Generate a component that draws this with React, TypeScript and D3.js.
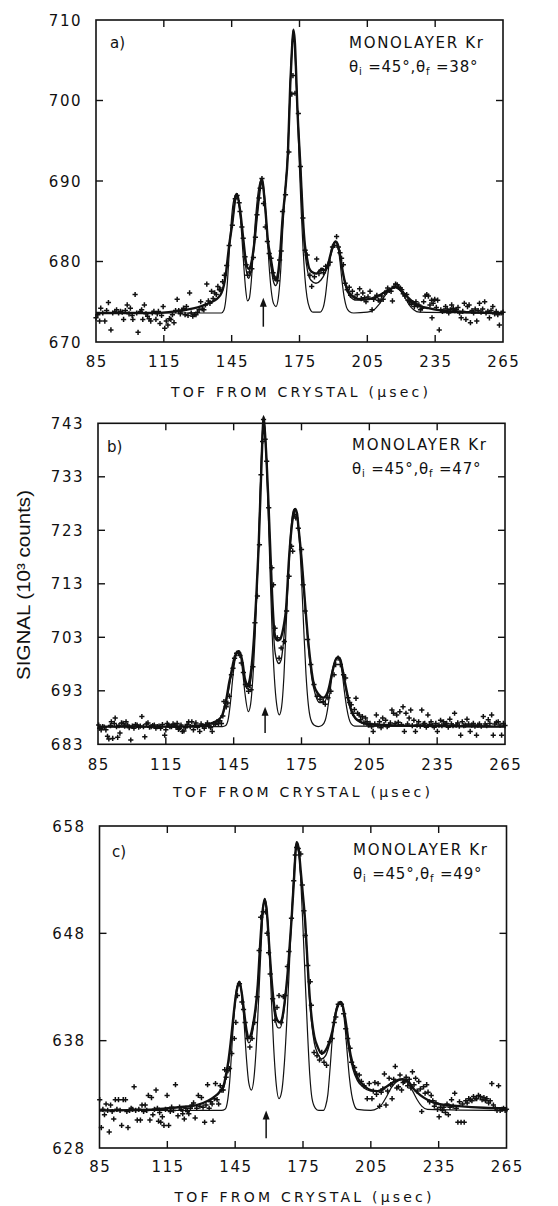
import React from 'react';
import * as d3 from 'd3';

// ---------- data ----------
const xTicks = [85, 115, 145, 175, 205, 235, 265];
const aYTicks = [670, 680, 690, 700, 710];
const bYTicks = [683, 693, 703, 713, 723, 733, 743];
const cYTicks = [628, 638, 648, 658];
const panelTags = ['a)', 'b)', 'c)'];
const sampleLabel = 'MONOLAYER Kr';
const incidentAngle = '45°';
const finalAngles = ['38°', '47°', '49°'];
const xTitle = 'TOF FROM CRYSTAL (μsec)';
const yTitle = 'SIGNAL (10³ counts)';
const arrowTOF = [159, 158.9, 158.7];
const arrowFrom = [671.9, 685.1, 628.9];
const arrowTo = [675.5, 690.0, 631.5];

// panel a
const aFit = [[85,673.6],[110,673.6],[120,673.8],[125,674.0],[130,674.3],[134,674.7],[137,675.1],[139,675.5],[140.5,676.1],[141.5,677.0],[142.5,678.6],[143.2,680.3],[143.9,682.0],[145.3,684.8],[146.6,687.8],[147.2,688.4],[148.7,686.4],[150.1,682.9],[151.4,679.8],[152.5,679.1],[153.5,679.6],[154.9,682.0],[156.2,685.8],[157.6,689.2],[158.3,690.3],[159.7,687.2],[161,682.7],[162.4,680.2],[163.6,678.3],[164.5,677.7],[165.5,678.5],[166.5,681.2],[167.5,685.3],[168.6,688.5],[169.9,693.6],[170.9,701.9],[171.6,706.0],[172.3,708.8],[173,707.0],[173.5,703.5],[174,699.5],[175.4,691.8],[176.5,685.4],[177.4,682.0],[178.2,680.6],[179.2,679.2],[180.5,678.7],[182.5,678.5],[184,678.9],[185,679.1],[186.3,678.9],[187.5,679.5],[188.5,680.6],[189.5,681.7],[190.3,682.3],[191,682.5],[191.8,682.2],[192.8,681.0],[193.8,679.3],[194.8,677.8],[195.8,676.8],[197,676.1],[199,675.6],[202,675.3],[205,675.3],[208,675.5],[211,675.9],[214,676.4],[216,676.7],[217.5,676.8],[219.5,676.5],[222,675.8],[225,675.0],[228,674.5],[232,674.2],[238,673.9],[250,673.7],[265,673.6]];
const aMid = [[143.9,682.0],[145.3,684.8],[147.2,688.4],[148.7,686.3],[150.1,682.5],[151.4,679.0],[152.5,677.9],[153.5,678.7],[154.9,681.8],[156.2,685.7],[158.3,690.3],[159.7,687.0],[161,682.3],[162.4,679.3],[163.6,677.4],[164.5,677.0],[165.5,677.8],[166.5,680.8],[167.5,685.0],[168.6,688.5],[169.9,693.6],[170.9,701.9],[172.3,708.8],[174,699.5],[175.4,691.8],[176.5,685.2],[177.4,681.3],[178.5,678.9],[180,677.7],[182.3,677.3],[184.5,677.7],[186.5,678.7],[188.5,680.5],[190,681.9],[191,682.5],[192.5,681.2],[194,678.8],[195.5,676.8],[197,675.8],[200,675.2],[204,675.2]];
const aNarrow = [[85,673.6],[140.5,673.6],[141.5,673.9],[142.3,675.0],[143,677.0],[143.8,680.5],[144.7,684.5],[145.7,687.3],[147.2,688.4],[148.4,686.8],[149.4,683.5],[150.4,679.3],[151.2,676.5],[152,675.1],[152.8,675.4],[153.7,677.6],[154.6,681.5],[155.6,685.5],[156.7,688.6],[158.3,690.3],[159.5,688.3],[160.5,684.3],[161.5,679.7],[162.5,676.4],[163.5,674.8],[164.6,674.4],[165.6,675.4],[166.6,678.5],[167.6,684.0],[168.6,688.5],[169.9,694.0],[170.9,701.9],[171.6,706.0],[172.3,708.8],[173,706.5],[173.6,702.5],[174.3,697.0],[175,691.5],[175.8,686.0],[176.6,681.5],[177.4,678.0],[178.3,675.6],[179.5,674.2],[181,673.7],[184,673.7],[185.5,674.3],[186.5,675.8],[187.5,678.3],[188.5,680.5],[189.5,681.9],[190.5,682.4],[191,682.5],[191.8,682.1],[192.8,680.3],[193.8,677.6],[194.8,675.5],[195.8,674.3],[197,673.8],[199,673.6],[205,673.7],[208,674.0],[210,674.6],[212,675.4],[214,676.2],[216,676.7],[217.5,676.8],[219.5,676.4],[221.5,675.6],[223.5,674.6],[225.5,674.0],[228,673.7],[265,673.6]];
const aPoints = [[85,673.0],[85.8,673.4],[86.6,672.6],[87.1,674.2],[88,673.6],[88.9,672.6],[89.7,673.9],[90.5,674.9],[91.6,671.5],[92.4,673.6],[93.3,673.8],[94.1,674.0],[95,673.6],[95.8,673.8],[96.6,673.7],[97.2,672.8],[98,673.9],[98.8,674.6],[99.6,673.5],[100.2,674.2],[101,673.3],[101.3,672.8],[102.3,675.9],[103,673.6],[103.6,671.2],[104.6,673.8],[105.2,674.0],[105.7,672.8],[106.4,674.6],[107.1,673.5],[107.8,673.2],[108.5,672.9],[109.2,672.6],[109.9,673.6],[110.6,673.8],[111.5,672.8],[112.1,673.5],[112.6,673.8],[113.3,672.3],[114,673.3],[114.7,674.4],[115.4,671.7],[116.1,672.6],[116.8,672.1],[117.5,672.9],[118.1,672.8],[118.8,673.4],[119.5,672.4],[120.2,673.9],[120.9,675.3],[121.6,673.9],[122.3,673.5],[123,673.9],[123.7,674.2],[124.4,673.4],[125,674.4],[125.7,673.3],[126.4,676.1],[127.1,673.6],[127.8,673.2],[128.5,673.4],[129.2,673.4],[129.9,673.7],[130.6,674.0],[131.3,675.0],[132,674.1],[132.7,674.0],[133.4,674.6],[134,677.2],[134.7,675.1],[135.4,674.8],[136.1,676.3],[136.8,675.4],[137.5,676.1],[138.2,675.9],[138.9,676.9],[139.6,676.5],[140.2,676.5],[141,677.5],[141.8,678.3],[142.8,679.5],[143.9,682.0],[145.3,684.5],[146.6,687.8],[147.4,688.2],[148.3,687.3],[148.7,686.2],[149.5,684.3],[150.1,682.9],[150.9,680.6],[151.4,679.6],[152.1,678.3],[152.9,678.7],[153.9,679.1],[154.6,680.5],[155.5,683.0],[156.2,685.8],[157.1,687.9],[157.6,689.1],[158.4,690.3],[159.1,687.2],[159.9,684.3],[160.8,682.5],[161.6,681.0],[162.4,680.4],[163.3,678.6],[164.2,677.9],[165.2,677.6],[166.2,680.2],[166.9,681.3],[167.5,686.2],[168.8,688.3],[170.3,693.6],[171.6,700.8],[172.1,703.1],[173,700.9],[174.5,698.4],[175.4,691.8],[176.5,685.4],[177.5,681.4],[178.4,680.8],[179.6,678.3],[180.4,676.9],[181.6,678.1],[182.6,680.3],[183.6,678.5],[184.5,678.9],[185.6,678.6],[186.6,679.4],[187.6,679.5],[188.5,679.9],[189.6,681.8],[190.5,682.0],[191.4,683.1],[192.2,681.8],[192.9,681.1],[193.6,680.4],[194.4,679.6],[195.2,677.3],[196.1,676.5],[197,676.8],[197.6,675.8],[198.4,676.3],[199.5,675.5],[200.5,675.9],[201.6,676.6],[202.3,675.4],[203,676.1],[203.8,675.5],[204.4,675.0],[205.3,675.6],[206.2,676.3],[207.1,674.0],[207.8,675.3],[208.5,675.5],[209.2,675.8],[209.9,675.2],[210.6,675.1],[211.3,675.7],[212,675.3],[212.7,676.1],[213.4,676.2],[214,676.7],[214.8,676.4],[215.5,676.3],[216.1,675.1],[216.8,676.9],[217.5,677.2],[218.2,677.1],[218.9,676.8],[219.6,676.7],[220.2,676.5],[220.9,676.0],[221.6,675.7],[222.4,675.9],[223,675.2],[223.7,675.0],[224.4,674.7],[225.1,674.9],[225.8,674.4],[226.5,675.0],[227.2,674.5],[227.8,674.6],[228.5,674.0],[229.2,674.2],[229.9,675.0],[230.6,675.7],[231.3,675.9],[232,675.7],[232.7,674.6],[233.4,675.2],[233.6,673.0],[234.1,674.8],[234.8,675.3],[235.5,674.3],[236.1,675.2],[236.8,671.5],[237.5,674.0],[238.2,673.8],[238.9,673.9],[239.6,674.4],[240.3,674.1],[241,673.6],[241.7,674.0],[242.3,674.6],[243,674.2],[243.7,673.9],[244.4,674.0],[245.1,674.3],[245.8,673.6],[246.5,673.0],[247.2,673.8],[247.9,674.8],[248.6,672.8],[249.3,674.4],[250,674.6],[250.6,672.4],[251.3,673.9],[252,673.6],[252.7,674.1],[253.4,672.6],[254,673.9],[254.6,674.8],[255.3,673.7],[256,674.1],[256.9,675.0],[257.5,673.6],[258.3,673.8],[259,673.0],[259.7,673.9],[260.5,674.4],[261.3,673.5],[262,673.8],[262.7,673.4],[263.4,672.1],[264.2,673.6],[265,673.7]];

// panel b
const bFit = [[85,686.3],[120,686.3],[130,686.5],[135,686.9],[138,687.5],[140,688.5],[141,690.0],[142,692.0],[143,694.5],[144,696.5],[145,698.6],[146,699.9],[147.2,700.4],[148,699.9],[149,698.1],[150,695.2],[151.3,694.1],[152.2,695.3],[153,697.8],[154,703.0],[155,710.5],[156,719.5],[157,731.5],[157.7,740.0],[158.2,744.3],[158.8,741.5],[159.5,736.5],[160.2,730.0],[161,721.5],[162,711.0],[162.8,705.0],[163.6,702.8],[164.5,702.4],[165.5,702.6],[166.5,703.8],[167.3,705.5],[168.1,708.0],[169.5,717.8],[170.6,723.4],[171.5,726.2],[172.2,727.0],[173,726.2],[173.6,723.8],[175,717.8],[176.4,710.3],[177.7,703.5],[179.1,697.9],[180.5,694.1],[182.6,692.3],[184.6,691.7],[186.7,692.9],[188.7,696.6],[190.1,698.8],[191.2,699.3],[192.2,698.8],[192.9,697.5],[194,695.0],[195,692.9],[196.3,690.4],[197.5,688.8],[199,687.8],[201,687.2],[204,686.8],[210,686.6],[220,686.5],[240,686.4],[265,686.3]];
const bMid = [[140,688.3],[142,691.5],[144,696.0],[145.5,699.0],[147.2,700.4],[148.5,699.0],[150,694.5],[151.3,693.3],[152.5,694.8],[154,702.5],[156,719.5],[158.2,744.3],[160.2,729.5],[162,709.5],[163,701.5],[164,698.8],[165,698.1],[166,698.8],[167,702.0],[168.1,707.5],[170.6,723.4],[172.2,727.0],[173.6,723.8],[176.4,710.0],[178,701.5],[179.5,695.5],[181,692.5],[183,690.8],[185,690.9],[187,693.0],[189,697.5],[191.2,699.3],[193,697.3],[195,692.5],[196.5,689.8],[198,688.3],[200,687.4],[204,686.8]];
const bNarrow = [[85,686.3],[140,686.3],[141.5,686.5],[142.5,687.5],[143.5,690.5],[144.5,695.0],[145.5,698.5],[146.5,700.2],[147.2,700.4],[148,699.8],[149,696.5],[150,692.5],[151.5,689.1],[152.5,690.5],[153.5,695.5],[154.5,703.5],[155.5,714.0],[156.5,727.0],[157.5,739.0],[158.2,744.3],[159,740.5],[160,730.0],[161,716.5],[162,704.0],[163,695.5],[164,690.5],[165.2,688.5],[166.2,690.0],[167.2,695.5],[168.2,705.0],[169.3,716.0],[170.5,724.0],[171.5,726.8],[172.2,727.0],[173,726.0],[174,721.5],[175,714.0],[176,704.5],[177,696.0],[178,690.5],[179,687.8],[180.5,686.6],[182.4,686.3],[184,686.5],[185.5,687.5],[186.5,689.5],[187.5,692.5],[188.5,695.7],[189.5,698.0],[190.5,699.1],[191.2,699.3],[192,698.6],[193,696.3],[194,692.8],[195,689.8],[196,687.8],[197,686.8],[198.5,686.4],[265,686.3]];
const bPoints = [[85.3,686.6],[85.7,686.0],[86.4,685.7],[87.1,686.3],[87.8,686.2],[88.5,685.7],[89.2,684.5],[89.8,684.0],[90.5,686.5],[90.9,687.2],[91.5,684.1],[92.2,686.9],[92.6,687.9],[93.2,686.3],[93.7,684.3],[94.3,686.5],[94.7,685.1],[95.4,687.0],[96.1,686.9],[96.8,686.4],[97.4,687.2],[98.1,686.6],[98.8,686.1],[99.5,683.8],[100.2,686.4],[100.9,686.0],[101.6,686.7],[102.3,686.6],[103,686.2],[103.7,686.4],[104.4,688.2],[105.1,686.3],[105.7,684.4],[106.4,686.8],[107.1,687.0],[107.8,686.2],[108.5,686.3],[109.2,686.5],[109.9,686.6],[110.6,686.0],[111.3,686.3],[112,686.4],[112.7,686.0],[113.5,686.7],[114.5,684.7],[115,685.7],[115.6,686.9],[116.1,686.6],[116.8,686.3],[117.5,686.3],[118.2,686.8],[118.9,686.6],[119.5,686.2],[120,686.9],[120.6,685.8],[121,686.0],[121.7,686.6],[122.3,685.4],[123,685.5],[123.7,686.1],[124.4,686.7],[125.1,687.2],[125.8,686.3],[126.5,687.2],[127.2,685.7],[127.8,686.5],[128.3,687.0],[129,686.2],[130,685.4],[130.6,686.8],[131.3,686.4],[132,686.0],[132.7,686.6],[133.4,687.0],[134.1,686.5],[134.8,686.1],[135.5,685.4],[136.2,686.8],[136.9,686.7],[137.6,687.2],[138.3,686.9],[138.9,687.4],[139.6,686.9],[140.2,688.3],[140.7,691.0],[141.7,690.0],[142.4,690.7],[143.1,692.0],[144,696.0],[144.7,697.2],[145.4,699.1],[146.3,700.0],[147.2,700.1],[147.8,699.6],[148.4,698.2],[149.3,696.4],[150.2,694.2],[150.9,693.8],[151.6,692.9],[152.2,694.0],[152.7,693.2],[153.5,697.5],[154.4,705.7],[155.5,710.7],[156.4,720.3],[157.1,733.4],[157.8,739.6],[158.2,743.7],[158.9,740.0],[159.6,735.9],[160.5,727.2],[161.9,716.0],[162.6,712.8],[163.3,704.7],[164.3,702.9],[165.1,699.1],[166,701.0],[167.4,702.2],[168.4,707.9],[169.5,714.4],[170.6,720.0],[171.1,719.1],[172,725.9],[172.5,725.3],[173.6,723.4],[175,719.4],[175.7,712.8],[176.6,707.9],[177.7,702.6],[179.1,697.9],[180.5,694.2],[181.9,692.0],[183.2,691.4],[184.6,691.0],[185.5,690.5],[186.7,691.7],[188,692.9],[189.4,696.0],[190.1,697.9],[191.2,699.1],[192.2,697.9],[193.6,696.0],[194.5,695.4],[195.6,691.7],[196.3,690.8],[197,690.4],[197.7,688.8],[198.4,689.5],[199.1,691.6],[199.8,688.8],[200.5,688.5],[201.2,687.6],[201.9,688.2],[202.6,687.0],[203.3,687.9],[204,687.2],[204.6,686.6],[205.3,686.9],[206,686.3],[206.7,685.4],[207.4,686.8],[208.1,688.5],[208.8,686.5],[209.5,687.2],[210.2,686.1],[210.9,687.9],[211.5,686.7],[212.2,687.5],[212.9,686.3],[213.6,686.6],[214.3,687.0],[215,689.4],[215.7,688.8],[216.4,686.9],[217.1,688.5],[217.8,687.1],[218.5,689.1],[219.2,686.7],[219.9,690.0],[220.5,685.4],[221.2,688.8],[221.9,686.8],[222.6,687.9],[223.3,689.4],[224,686.5],[224.7,687.5],[225.4,685.4],[226.1,686.6],[226.8,687.2],[227.5,686.4],[228.2,689.4],[228.9,686.8],[229.5,686.9],[230.2,686.2],[230.9,688.5],[231.6,686.7],[232.3,687.2],[233,686.5],[233.7,686.2],[234.4,686.9],[235.1,685.4],[235.8,686.6],[236.5,687.5],[237.1,686.5],[237.8,687.2],[238.5,686.7],[239.2,686.9],[239.9,686.2],[240.6,687.7],[241.3,686.8],[242,686.5],[242.7,688.8],[243.4,686.6],[244.1,687.0],[244.8,686.4],[245.4,684.7],[246.1,687.2],[246.8,686.5],[247.5,686.6],[248.2,687.7],[248.9,686.8],[249.6,685.4],[250.3,686.6],[251,686.9],[251.7,686.4],[252.4,684.7],[253,686.6],[253.7,686.8],[254.5,686.4],[255.4,688.2],[256.2,686.8],[256.9,686.5],[257.6,687.6],[258.3,686.9],[259.1,688.5],[259.8,684.7],[260.5,686.8],[261.2,687.1],[262,687.2],[262.8,686.6],[263.5,684.7],[264.3,686.9],[265,686.5]];

// panel c
const cFit = [[85,631.5],[110,631.6],[120,631.8],[128,632.0],[133,632.4],[136,632.8],[138,633.2],[140,633.9],[141,634.9],[142,636.1],[143,637.8],[144,639.8],[145,641.7],[146,643.0],[146.9,643.5],[148,642.3],[149,640.6],[150,639.0],[151.1,638.3],[152,638.6],[153,639.6],[154,641.0],[155,643.2],[156,646.8],[157,649.8],[158.1,651.2],[159,650.0],[160,647.0],[161,644.0],[162,641.7],[163,640.3],[164,639.8],[164.9,639.7],[166,640.3],[167,641.8],[168,643.8],[169,646.5],[170,649.5],[171,653.0],[172.2,656.5],[173,656.0],[174,653.8],[175,651.5],[176,649.0],[177,645.3],[178,642.0],[179,639.8],[180,638.4],[181.5,637.4],[183.3,636.8],[185,637.1],[186.5,637.8],[188,638.9],[189.5,640.6],[190.5,641.3],[191.6,641.6],[192.5,641.3],[193.5,640.3],[194.5,638.9],[195.5,637.3],[197,635.8],[199,634.6],[202,633.8],[205,633.4],[208,633.3],[211,633.6],[214,634.0],[216.5,634.3],[219,634.4],[221.5,634.2],[224,633.5],[227,632.9],[230,632.5],[235,632.1],[244,631.9],[255,631.75],[265,631.7]];
const cMid = [[140,633.6],[142,635.8],[144,639.6],[146,643.0],[146.9,643.5],[148,642.2],[149,640.3],[150,638.5],[151.1,637.8],[152,638.1],[153,639.2],[154,640.6],[155,642.8],[156,646.6],[157,649.8],[158.1,651.2],[159,650.0],[160,647.0],[161,643.8],[162,641.2],[163,639.7],[164,639.2],[164.9,639.2],[166,640.0],[167,641.6],[168,643.6],[169,646.5],[170,649.5],[171,653.0],[172.2,656.5],[173,656.0],[174,653.5],[175,651.2],[176,648.7],[177,645.0],[178,641.6],[179,639.3],[180,637.8],[181.5,636.8],[183.3,636.3],[185,636.6],[186.5,637.5],[188,638.8],[189.5,640.5],[190.5,641.3],[191.6,641.6],[192.5,641.2],[193.5,640.1],[194.5,638.5],[195.5,636.9],[197,635.4],[199,634.3],[202,633.6],[205,633.3]];
const cNarrow = [[85,631.5],[139,631.5],[140.5,631.6],[141.5,632.2],[142.5,634.0],[143.5,637.2],[144.5,640.5],[145.5,642.7],[146.9,643.5],[148,642.3],[149,639.5],[150,636.3],[151,634.1],[152.2,633.4],[153.3,634.5],[154.3,637.3],[155.3,641.5],[156.3,646.0],[157.2,649.6],[158.1,651.2],[159,650.3],[160,646.8],[161,642.0],[162,637.5],[163,634.3],[164.4,632.6],[165.6,633.3],[166.8,636.0],[168,640.5],[169.2,646.0],[170.4,651.5],[171.4,655.0],[172.2,656.5],[173,656.0],[174,653.0],[175,648.5],[176,643.5],[177,638.8],[178,634.8],[179,632.6],[180.5,631.7],[182,631.5],[184,631.5],[185,631.9],[186,633.0],[187,635.5],[188,638.3],[189,640.2],[190,641.2],[191.6,641.6],[192.5,641.1],[193.5,639.5],[194.5,637.0],[195.5,634.6],[196.5,633.0],[197.5,632.1],[199,631.6],[205,631.5],[208,631.7],[210,632.1],[212,632.8],[214,633.6],[216,634.1],[219,634.4],[221.5,634.0],[223.5,633.3],[225.5,632.5],[227.5,631.9],[230,631.6],[265,631.5]];
const cPoints = [[85.1,632.5],[85.8,629.9],[86.5,631.6],[87.2,631.1],[87.9,632.1],[88.6,631.5],[89.3,629.5],[89.9,632.0],[90.6,631.4],[91.3,630.7],[92,632.5],[92.7,631.6],[93.4,632.5],[94.1,631.5],[94.8,630.1],[95.5,632.5],[96.5,632.5],[97.1,631.4],[97.6,629.9],[98.3,631.5],[99,631.7],[99.6,631.6],[100.3,633.7],[101,631.5],[101.7,630.6],[102.4,631.6],[103.1,630.6],[103.8,632.0],[104.5,631.4],[105.2,632.0],[105.9,631.5],[106.6,632.9],[107.3,630.6],[108,632.7],[108.6,631.1],[109.3,631.6],[110,633.4],[110.6,631.7],[111.1,630.5],[111.6,631.3],[112.1,630.4],[112.8,630.9],[113.5,630.1],[114.2,631.6],[114.9,632.9],[115.6,630.1],[116.3,631.4],[116.9,631.8],[117.7,631.5],[118.6,633.9],[119.7,631.0],[120.4,631.8],[121.1,631.6],[121.8,631.2],[122.5,630.7],[123.2,631.7],[123.9,631.4],[124.5,631.2],[125.2,631.7],[125.9,632.0],[126.6,632.2],[127.3,630.8],[128,631.7],[128.7,632.9],[129.4,631.9],[130.1,632.7],[130.8,631.8],[131.5,630.4],[132.1,632.0],[132.8,633.9],[133.5,631.7],[134.2,632.3],[134.8,632.1],[135.2,630.5],[135.8,632.6],[136.3,634.0],[137,632.5],[137.7,632.1],[138.4,633.8],[139.1,633.4],[139.7,633.4],[140.4,635.3],[141,634.6],[141.8,635.2],[142.5,635.4],[143.5,636.8],[144.6,638.2],[145.3,639.7],[146,642.2],[146.9,643.3],[148,641.6],[148.7,640.9],[149.4,639.7],[150.5,638.2],[151.5,637.4],[152.5,638.2],[153.6,639.7],[154.7,642.1],[155.6,646.4],[156.3,649.5],[157.4,650.0],[158.4,650.0],[159.1,648.0],[159.8,646.2],[160.5,644.2],[161.6,641.9],[162.6,639.9],[163.5,641.1],[164.4,642.2],[165.3,639.7],[166.3,642.1],[167.1,642.2],[168.1,644.9],[168.8,646.3],[169.9,649.4],[170.9,652.9],[171.6,655.3],[172.2,656.0],[172.9,655.9],[174,655.4],[174.7,652.5],[175.4,650.1],[176,647.8],[177.1,645.0],[178.2,643.5],[178.7,641.3],[179.9,636.9],[181.2,636.6],[182.3,636.2],[183.3,636.9],[184.3,636.0],[185.4,635.7],[186.8,637.9],[187.9,638.2],[188.8,639.7],[189.5,640.2],[190.6,641.4],[192,641.4],[193,640.5],[193.9,639.1],[194.8,638.2],[195.8,637.3],[196.5,636.0],[197.8,635.5],[198.7,634.9],[199.9,634.8],[200.8,634.2],[202,633.8],[203.4,632.6],[204.3,634.0],[205.5,632.6],[206.1,633.3],[206.8,634.1],[207.5,633.0],[208.2,634.0],[208.9,631.9],[209.6,633.2],[210.3,633.5],[211,634.9],[211.7,632.0],[212.4,633.3],[213.1,634.5],[213.8,633.9],[214.4,632.6],[215.1,634.4],[215.8,635.6],[216.5,633.6],[217.2,633.7],[217.9,634.8],[218.6,633.4],[219.3,634.1],[219.9,634.2],[220.6,634.6],[221.3,633.8],[222,634.4],[222.7,633.6],[223.4,635.1],[224.1,633.9],[224.8,634.5],[225.5,633.3],[226.2,634.2],[226.9,633.5],[227.5,631.4],[228.3,633.7],[229,633.1],[229.7,633.9],[230.3,633.2],[231,632.3],[231.7,632.9],[232.4,632.4],[233.1,631.9],[233.8,632.2],[234.5,631.6],[235.2,630.9],[235.9,631.8],[236.6,631.5],[237.3,631.8],[238,631.3],[238.7,632.1],[239.3,631.1],[240,631.8],[240.7,632.5],[241.4,631.9],[242.1,633.1],[242.8,631.7],[243.5,630.4],[244.2,632.3],[244.9,630.4],[245.6,632.1],[246.3,630.4],[247,632.4],[247.6,632.2],[248.3,632.6],[249,632.5],[249.7,632.4],[250.4,632.8],[251.1,632.6],[251.8,632.6],[252.6,632.9],[253.4,632.8],[254.2,632.5],[255,632.7],[255.7,632.4],[256.3,632.6],[257.1,632.2],[257.8,632.4],[258.5,634.0],[259.2,632.0],[260,631.7],[260.8,631.5],[261.5,633.8],[262.2,631.5],[263,631.6],[263.7,631.7],[264.4,631.5],[265,631.6]];

// ---------- layout (positions only) ----------
const layout = [
  { x0: 96, x1: 503, yt: 20, yb: 342, xLab: 367, titleY: 397, tagX: 110, tagY: 48, infoY: 48, infoX: 349 },
  { x0: 98, x1: 505, yt: 423.3, yb: 744.3, xLab: 770, titleY: 797, tagX: 107, tagY: 452, infoY: 450, infoX: 352 },
  { x0: 99.5, x1: 506.5, yt: 826, yb: 1148, xLab: 1172, titleY: 1202, tagX: 112, tagY: 857, infoY: 855, infoX: 353 },
];

const panels = [
  { yTicks: aYTicks, fit: aFit, mid: aMid, narrow: aNarrow, points: aPoints },
  { yTicks: bYTicks, fit: bFit, mid: bMid, narrow: bNarrow, points: bPoints },
  { yTicks: cYTicks, fit: cFit, mid: cMid, narrow: cNarrow, points: cPoints },
];

const FONT = "'DejaVu Sans', sans-serif";
const INK = '#111';

function Panel({ i }: { i: number }) {
  const P = panels[i];
  const L = layout[i];
  const x = d3.scaleLinear().domain([xTicks[0], xTicks[xTicks.length - 1]]).range([L.x0, L.x1]);
  const y = d3.scaleLinear().domain([P.yTicks[0], P.yTicks[P.yTicks.length - 1]]).range([L.yb, L.yt]);
  const line = d3.line<number[]>().x(d => x(d[0])).y(d => y(d[1])).curve(d3.curveMonotoneX);
  const tl = 7;
  const ax = x(arrowTOF[i]);
  const ay0 = y(arrowFrom[i]);
  const ay1 = y(arrowTo[i]);
  return (
    <g>
      <rect x={L.x0} y={L.yt} width={L.x1 - L.x0} height={L.yb - L.yt} fill="none" stroke={INK} strokeWidth={1.6} />
      {xTicks.slice(1, -1).map(t => (
        <g key={'xt' + t}>
          <line x1={x(t)} x2={x(t)} y1={L.yb} y2={L.yb - tl} stroke={INK} strokeWidth={1.4} />
          <line x1={x(t)} x2={x(t)} y1={L.yt} y2={L.yt + tl} stroke={INK} strokeWidth={1.4} />
        </g>
      ))}
      {P.yTicks.slice(1, -1).map(v => (
        <g key={'yt' + v}>
          <line x1={L.x0} x2={L.x0 + tl} y1={y(v)} y2={y(v)} stroke={INK} strokeWidth={1.4} />
          <line x1={L.x1} x2={L.x1 - tl} y1={y(v)} y2={y(v)} stroke={INK} strokeWidth={1.4} />
        </g>
      ))}
      {xTicks.map(t => (
        <text key={'xl' + t} x={x(t) + 0.75} y={L.xLab} textAnchor="middle" fontFamily={FONT} fontSize={15} letterSpacing={1.5} fill={INK}>{t}</text>
      ))}
      {P.yTicks.map(v => (
        <text key={'yl' + v} x={L.x0 - 14} y={y(v) + 5.5} textAnchor="end" fontFamily={FONT} fontSize={15} letterSpacing={1.5} fill={INK}>{v}</text>
      ))}
      <text x={(L.x0 + L.x1) / 2} y={L.titleY} textAnchor="middle" fontFamily={FONT} fontSize={14} textLength={257} lengthAdjust="spacing" fill={INK}>{xTitle}</text>
      <path d={line(P.narrow) || ''} fill="none" stroke={INK} strokeWidth={1.2} />
      <path d={line(P.mid) || ''} fill="none" stroke={INK} strokeWidth={1.3} />
      <path d={line(P.fit) || ''} fill="none" stroke={INK} strokeWidth={2.4} />
      {P.points.map((d, k) => (
        <path key={'p' + k} d={`M${x(d[0]) - 2.6},${y(d[1])}h5.2M${x(d[0])},${y(d[1]) - 2.6}v5.2`} stroke={INK} strokeWidth={1.5} />
      ))}
      <line x1={ax} x2={ax} y1={ay0} y2={ay1 + 6} stroke={INK} strokeWidth={1.5} />
      <path d={`M${ax},${ay1}L${ax - 3.5},${ay1 + 9}L${ax + 3.5},${ay1 + 9}Z`} fill={INK} />
      <text x={L.tagX} y={L.tagY} fontFamily={FONT} fontSize={15} fill={INK}>{panelTags[i]}</text>
      <text x={L.infoX} y={L.infoY} fontFamily={FONT} fontSize={15} textLength={134} lengthAdjust="spacing" fill={INK}>{sampleLabel}</text>
      <text x={L.infoX} y={L.infoY + 24} fontFamily={FONT} fontSize={15} letterSpacing={0.8} fill={INK}>
        θ<tspan fontSize={10} dy={3}>i</tspan><tspan dy={-3}>{' =' + incidentAngle + ',θ'}</tspan><tspan fontSize={10} dy={3}>f</tspan><tspan dy={-3}>{' =' + finalAngles[i]}</tspan>
      </text>
    </g>
  );
}

export default function App() {
  return (
    <svg width={558} height={1206} style={{ position: 'absolute', left: 0, top: 0, background: '#fff' }}>
      <rect x={0} y={0} width={558} height={1206} fill="#fff" />
      {[0, 1, 2].map(i => <Panel key={i} i={i} />)}
      <text transform="translate(30,585) rotate(-90)" textAnchor="middle" fontFamily="'Liberation Sans', Arial, sans-serif" fontSize={18} textLength={190} lengthAdjust="spacingAndGlyphs" fill={INK}>{yTitle}</text>
    </svg>
  );
}
